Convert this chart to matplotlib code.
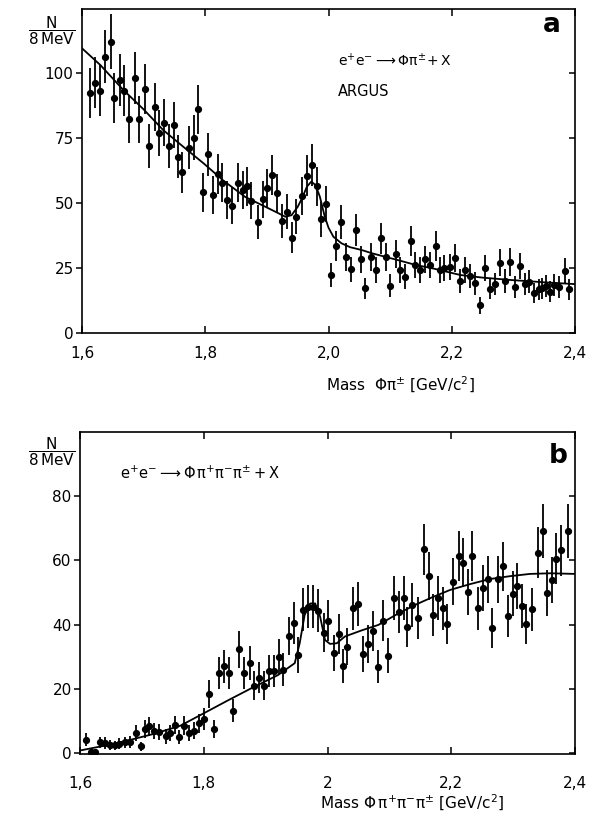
import matplotlib
matplotlib.use("Agg")
import matplotlib.pyplot as plt

plt.rcParams["font.family"] = ["DejaVu Sans"]
plt.rcParams["mathtext.default"] = "regular"

# panel a: e+e- -> phi pi+- X
x_a = [1.613, 1.621, 1.629, 1.637, 1.647, 1.652, 1.662, 1.669, 1.677, 1.686,
       1.693, 1.702, 1.709, 1.718, 1.725, 1.733, 1.741, 1.750, 1.756, 1.763,
       1.773, 1.781, 1.789, 1.796, 1.804, 1.812, 1.820, 1.828, 1.836, 1.844,
       1.853, 1.861, 1.868, 1.875, 1.885, 1.893, 1.901, 1.908, 1.916, 1.924,
       1.932, 1.940, 1.948, 1.957, 1.965, 1.973, 1.981, 1.988, 1.996, 2.004,
       2.012, 2.020, 2.028, 2.036, 2.045, 2.052, 2.059, 2.069, 2.077, 2.085,
       2.093, 2.100, 2.109, 2.116, 2.124, 2.134, 2.141, 2.149, 2.157, 2.165,
       2.174, 2.181, 2.188, 2.197, 2.206, 2.214, 2.222, 2.230, 2.238, 2.246,
       2.254, 2.262, 2.270, 2.279, 2.287, 2.294, 2.303, 2.311, 2.319, 2.326,
       2.334, 2.341, 2.346, 2.353, 2.360, 2.366, 2.374, 2.383, 2.391]
y_a = [92.4, 96.3, 93.2, 106.3, 112.0, 90.3, 97.3, 93.2, 82.2, 98.0,
       82.2, 93.8, 72.0, 87.0, 76.8, 80.9, 72.0, 79.9, 67.8, 61.8,
       71.3, 75.1, 86.0, 54.1, 68.8, 53.1, 61.2, 57.8, 51.2, 49.0,
       57.8, 55.0, 56.5, 50.9, 42.8, 51.4, 55.6, 60.8, 53.7, 43.0,
       46.7, 36.7, 44.7, 52.7, 60.5, 64.6, 56.5, 43.7, 49.6, 22.3,
       33.5, 42.6, 29.3, 24.5, 39.6, 28.3, 17.2, 29.3, 24.2, 36.4,
       29.3, 18.2, 30.4, 24.2, 21.7, 35.4, 26.2, 24.2, 28.3, 26.2,
       33.5, 24.2, 24.9, 25.3, 29.0, 20.0, 24.2, 22.0, 19.1, 10.6,
       25.1, 17.0, 18.8, 27.0, 20.0, 27.3, 17.8, 25.8, 18.8, 19.7,
       15.5, 16.8, 17.2, 18.1, 15.9, 18.5, 17.6, 24.0, 16.8]
err_a = [9.6, 9.8, 9.7, 10.3, 10.6, 9.5, 9.9, 9.7, 9.1, 9.9,
         9.1, 9.7, 8.5, 9.3, 8.8, 9.0, 8.5, 8.9, 8.2, 7.9,
         8.4, 8.7, 9.3, 7.4, 8.3, 7.3, 7.8, 7.6, 7.2, 7.0,
         7.6, 7.4, 7.5, 7.1, 6.5, 7.2, 7.5, 7.8, 7.3, 6.6,
         6.8, 6.1, 6.7, 7.3, 7.8, 8.0, 7.5, 6.6, 7.0, 4.7,
         5.8, 6.5, 5.4, 4.9, 6.3, 5.3, 4.1, 5.4, 4.9, 6.0,
         5.4, 4.3, 5.5, 4.9, 4.7, 5.9, 5.1, 4.9, 5.3, 5.1,
         5.8, 4.9, 5.0, 5.0, 5.4, 4.5, 4.9, 4.7, 4.4, 3.3,
         5.0, 4.1, 4.3, 5.2, 4.5, 5.2, 4.2, 5.1, 4.3, 4.4,
         3.9, 4.1, 4.1, 4.3, 4.0, 4.3, 4.2, 4.9, 4.1]
fit_a_x = [1.600, 1.630, 1.667, 1.700, 1.732, 1.765, 1.797, 1.830, 1.865, 1.897,
           1.915, 1.930, 1.940, 1.950, 1.957, 1.965, 1.972, 1.979, 1.986, 1.994,
           2.000, 2.008, 2.021, 2.035, 2.054, 2.070, 2.092, 2.110, 2.141, 2.170,
           2.214, 2.250, 2.295, 2.350, 2.400]
fit_a_y = [109.5, 103.0, 93.5, 86.0, 78.0, 71.5, 65.3, 58.5, 52.3, 48.6,
           46.5, 44.7, 45.3, 48.5, 51.8, 56.3, 58.2, 56.9, 52.4, 44.7,
           40.5, 37.0, 34.5, 33.0, 31.9, 30.7, 29.3, 28.2, 26.2, 24.8,
           22.3, 21.3, 20.4, 19.5, 18.8]

# panel b: e+e- -> phi pi+ pi- pi+- X
x_b = [1.609, 1.617, 1.625, 1.633, 1.640, 1.648, 1.657, 1.663, 1.672, 1.680,
       1.690, 1.698, 1.705, 1.712, 1.720, 1.727, 1.739, 1.745, 1.753, 1.760,
       1.768, 1.776, 1.784, 1.792, 1.800, 1.808, 1.817, 1.825, 1.833, 1.841,
       1.848, 1.857, 1.865, 1.874, 1.881, 1.889, 1.897, 1.905, 1.913, 1.922,
       1.928, 1.938, 1.946, 1.953, 1.961, 1.969, 1.977, 1.985, 1.994, 2.001,
       2.010, 2.018, 2.025, 2.032, 2.041, 2.050, 2.057, 2.065, 2.074, 2.082,
       2.089, 2.097, 2.107, 2.115, 2.123, 2.129, 2.137, 2.146, 2.156, 2.164,
       2.171, 2.179, 2.186, 2.193, 2.203, 2.212, 2.219, 2.227, 2.234, 2.243,
       2.252, 2.260, 2.266, 2.275, 2.283, 2.291, 2.299, 2.307, 2.315, 2.321,
       2.330, 2.340, 2.348, 2.354, 2.362, 2.370, 2.378, 2.389]
y_b = [4.1, 0.4, 0.4, 3.3, 3.1, 2.5, 2.4, 2.9, 3.3, 3.5,
       6.2, 2.1, 7.5, 8.3, 6.9, 6.6, 5.2, 6.2, 8.7, 5.0,
       8.5, 6.2, 7.0, 9.3, 10.6, 18.4, 7.5, 25.0, 27.0, 25.0,
       13.2, 32.3, 25.0, 28.0, 21.0, 23.5, 21.0, 25.5, 25.5, 30.0,
       26.0, 36.5, 40.5, 30.5, 44.6, 45.6, 45.6, 44.3, 37.5, 41.2,
       31.1, 37.1, 27.1, 33.1, 45.1, 46.4, 30.9, 34.0, 38.1, 26.9,
       41.2, 30.3, 48.2, 44.0, 48.2, 39.2, 46.1, 42.0, 63.5, 55.2,
       43.0, 48.2, 45.1, 40.2, 53.4, 61.4, 59.3, 50.2, 61.4, 45.1,
       51.3, 54.1, 38.9, 54.1, 58.2, 42.8, 49.7, 52.0, 45.8, 40.2,
       44.8, 62.4, 69.2, 49.9, 53.9, 60.6, 63.2, 69.2]
err_b = [2.0, 0.6, 0.6, 1.8, 1.8, 1.6, 1.5, 1.7, 1.8, 1.9,
         2.5, 1.4, 2.7, 2.9, 2.6, 2.6, 2.3, 2.5, 2.9, 2.2,
         2.9, 2.5, 2.6, 3.0, 3.3, 4.3, 2.7, 5.0, 5.2, 5.0,
         3.6, 5.7, 5.0, 5.3, 4.6, 4.8, 4.6, 5.0, 5.0, 5.5,
         5.1, 6.0, 6.4, 5.5, 6.7, 6.8, 6.8, 6.7, 6.1, 6.4,
         5.6, 6.1, 5.2, 5.8, 6.7, 6.8, 5.6, 5.8, 6.2, 5.2,
         6.4, 5.5, 6.9, 6.6, 6.9, 6.3, 6.8, 6.5, 8.0, 7.4,
         6.6, 6.9, 6.7, 6.3, 7.3, 7.8, 7.7, 7.1, 7.8, 6.7,
         7.2, 7.4, 6.2, 7.4, 7.6, 6.5, 7.0, 7.2, 6.8, 6.3,
         6.7, 7.9, 8.3, 7.1, 7.3, 7.8, 7.9, 8.3]
fit_b_x = [1.600, 1.640, 1.681, 1.720, 1.762, 1.805, 1.840, 1.875, 1.920, 1.947,
           1.955, 1.963, 1.972, 1.980, 1.988, 1.996, 2.004, 2.015, 2.028, 2.055,
           2.082, 2.110, 2.141, 2.170, 2.198, 2.230, 2.262, 2.295, 2.327, 2.360,
           2.400]
fit_b_y = [0.8, 2.3, 4.1, 6.0, 8.5, 12.9, 16.5, 20.0, 24.3, 28.0,
           34.2, 43.0, 46.6, 46.6, 42.5, 35.2, 34.0, 34.2, 36.3, 38.2,
           39.9, 43.0, 46.1, 48.6, 50.8, 52.6, 54.2, 55.1, 55.8, 56.0,
           55.8]

xticks = [1.6, 1.8, 2.0, 2.2, 2.4]
xlabels_a = ["1,6", "1,8", "2,0", "2,2", "2,4"]
xlabels_b = ["1,6", "1,8", "2", "2,2", "2,4"]
yticks_a = [0, 25, 50, 75, 100]
yticks_b = [0, 20, 40, 60, 80]

fig = plt.figure(figsize=(5.91, 8.17), dpi=100)
ax_a = fig.add_axes([0.1387, 0.5924, 0.8343, 0.3966])
ax_b = fig.add_axes([0.1354, 0.0771, 0.8376, 0.3941])


def style(ax, yticks, xlabels, pad):
    ax.set_xlim(1.6, 2.4)
    ax.set_xticks(xticks)
    ax.set_xticklabels(xlabels)
    ax.set_yticks(yticks)
    for s in ax.spines.values():
        s.set_linewidth(1.2)
    ax.tick_params(axis="x", direction="in", top=True, length=5, width=1.1,
                   pad=pad, labelsize=11)
    ax.tick_params(axis="y", direction="out", length=4, width=1.1, pad=2,
                   labelsize=11)
    ax.tick_params(axis="y", which="both", right=True)
    for t in ax.yaxis.get_ticklines()[1::2]:
        t.set_marker(matplotlib.lines.TICKLEFT)


def draw(ax, x, y, err, fx, fy):
    ax.errorbar(x, y, yerr=err, fmt="o", color="black", ms=4.2,
                elinewidth=1.3, capsize=0)
    ax.plot(fx, fy, color="black", lw=1.3)


draw(ax_a, x_a, y_a, err_a, fit_a_x, fit_a_y)
style(ax_a, yticks_a, xlabels_a, 9)
ax_a.set_ylim(0, 124.6)
ax_a.set_xlabel(r"Mass  $\Phi\pi^{\pm}$ [GeV/c$^{2}$]", fontsize=11)
ax_a.xaxis.set_label_coords(0.645, -0.128)
ax_a.text(0.519, 0.84, r"$e^{+}e^{-}\longrightarrow\Phi\pi^{\pm}\!+X$",
          transform=ax_a.transAxes, fontsize=10, va="center")
ax_a.text(0.519, 0.744, "ARGUS", transform=ax_a.transAxes, fontsize=10.5,
          va="center")
ax_a.text(0.972, 0.95, "a", transform=ax_a.transAxes, fontsize=19,
          fontweight="bold", ha="right", va="center")

draw(ax_b, x_b, y_b, err_b, fit_b_x, fit_b_y)
style(ax_b, yticks_b, xlabels_b, 16)
ax_b.set_ylim(-0.3, 100)
ax_b.set_xlabel(r"Mass $\Phi\,\pi^{+}\pi^{-}\pi^{\pm}$ [GeV/c$^{2}$]",
                fontsize=11)
ax_b.xaxis.set_label_coords(0.67, -0.122)
ax_b.text(0.081, 0.873,
          r"$e^{+}e^{-}\longrightarrow\Phi\,\pi^{+}\pi^{-}\pi^{\pm}+X$",
          transform=ax_b.transAxes, fontsize=10.5, va="center")
ax_b.text(0.985, 0.925, "b", transform=ax_b.transAxes, fontsize=19,
          fontweight="bold", ha="right", va="center")

for yc in (0.963, 0.447):
    fig.text(0.088, yc, r"$\dfrac{N}{8\,MeV}$", fontsize=11,
             ha="center", va="center")

fig.savefig("out.png", dpi=100)
